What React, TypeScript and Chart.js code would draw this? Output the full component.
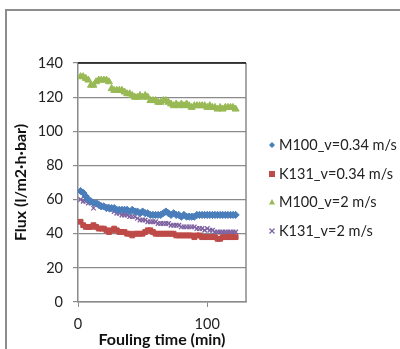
import React, { useEffect, useRef } from "react";
import { Chart, registerables } from "chart.js";

Chart.register(...registerables);

const times = [2, 4, 6, 8, 10, 12, 14, 16, 18, 20, 22, 24, 26, 28, 30, 32, 34, 36, 38, 40, 42, 44, 46, 48, 50, 52, 54, 56, 58, 60, 62, 64, 66, 68, 70, 72, 74, 76, 78, 80, 82, 84, 86, 88, 90, 92, 94, 96, 98, 100, 102, 104, 106, 108, 110, 112, 114, 116, 118, 120, 122];

const m100Slow = [65, 64, 62, 60, 59, 58, 58, 57, 56, 56, 55, 55, 55, 55, 54, 54, 54, 54, 54, 53, 54, 53, 53, 52, 53, 52, 52, 51, 51, 51, 51, 51, 52, 53, 52, 51, 52, 51, 51, 50, 51, 50, 50, 50, 50, 51, 51, 51, 51, 51, 51, 51, 51, 51, 51, 51, 51, 51, 51, 51, 51];

const k131Slow = [47, 45, 44, 44, 44, 45, 44, 43, 43, 43, 42, 41, 42, 43, 42, 41, 41, 41, 40, 40, 39, 40, 40, 40, 40, 41, 42, 42, 41, 40, 40, 40, 40, 40, 40, 40, 40, 39, 39, 39, 39, 39, 39, 39, 38, 39, 39, 38, 38, 38, 38, 38, 38, 37, 37, 38, 38, 38, 38, 38, 38];

const m100Fast = [132, 132, 131, 130, 127, 127, 129, 130, 130, 130, 130, 129, 125, 124, 124, 124, 124, 123, 122, 122, 121, 120, 120, 121, 120, 121, 120, 118, 118, 118, 117, 117, 118, 118, 117, 116, 115, 116, 115, 116, 115, 116, 115, 114, 115, 115, 115, 115, 115, 114, 115, 114, 114, 113, 114, 113, 114, 114, 114, 114, 113];

const k131Fast = [60, 59, 59, 58, 58, 55, 58, 57, 56, 56, 56, 55, 54, 53, 52, 52, 51, 51, 51, 50, 50, 50, 49, 48, 48, 48, 47, 47, 47, 47, 46, 46, 46, 46, 46, 45, 45, 45, 45, 44, 44, 44, 44, 44, 44, 43, 43, 43, 42, 43, 42, 42, 41, 41, 41, 41, 41, 41, 41, 41, 41];

const seriesLabels = ["M100_v=0.34 m/s", "K131_v=0.34 m/s", "M100_v=2 m/s", "K131_v=2 m/s"];
const yTicks = [0, 20, 40, 60, 80, 100, 120, 140];
const xTicks = [0, 100];

const FONT = "Lato, 'Open Sans', sans-serif";

export default function App() {
  const ref = useRef<HTMLCanvasElement | null>(null);

  useEffect(() => {
    if (!ref.current) return;
    const mk = (vals: number[]) => times.map((t, i) => ({ x: t, y: vals[i] }));
    const styles = [
      { color: "#4A7EBB", style: "rectRot", r: 3.6 },
      { color: "#BE4B48", style: "rect", r: 3.4 },
      { color: "#98B954", style: "triangle", r: 4 },
      { color: "#7D60A0", style: "crossRot", r: 3.2 },
    ];
    const series = [m100Slow, k131Slow, m100Fast, k131Fast];

    function drawMarker(ctx: CanvasRenderingContext2D, style: string, x: number, y: number, r: number) {
      ctx.beginPath();
      if (style === "rectRot") {
        ctx.moveTo(x, y - r);
        ctx.lineTo(x + r, y);
        ctx.lineTo(x, y + r);
        ctx.lineTo(x - r, y);
        ctx.closePath();
        ctx.fill();
      } else if (style === "rect") {
        ctx.rect(x - r, y - r, 2 * r, 2 * r);
        ctx.fill();
      } else if (style === "triangle") {
        ctx.moveTo(x, y - r);
        ctx.lineTo(x + r, y + r * 0.8);
        ctx.lineTo(x - r, y + r * 0.8);
        ctx.closePath();
        ctx.fill();
      } else {
        ctx.moveTo(x - r, y - r);
        ctx.lineTo(x + r, y + r);
        ctx.moveTo(x + r, y - r);
        ctx.lineTo(x - r, y + r);
        ctx.stroke();
      }
    }

    const frame = {
      id: "frame",
      afterDraw(chart: any) {
        const { ctx, chartArea: a } = chart;
        ctx.save();
        ctx.lineWidth = 1.5;
        ctx.strokeStyle = "#8a8a8a";
        ctx.beginPath();
        ctx.moveTo(a.right, a.top);
        ctx.lineTo(a.right, a.bottom);
        ctx.stroke();
        ctx.strokeStyle = "#111";
        ctx.beginPath();
        ctx.moveTo(a.left, a.top);
        ctx.lineTo(a.right, a.top);
        ctx.stroke();
        ctx.restore();
      },
    };

    const legend = {
      id: "customLegend",
      afterDraw(chart: any) {
        const { ctx } = chart;
        ctx.save();
        const ys = [145, 174, 202, 231];
        chart.data.datasets.forEach((ds: any, i: number) => {
          const s = styles[i];
          ctx.fillStyle = s.color;
          ctx.strokeStyle = s.color;
          ctx.lineWidth = 1.2;
          drawMarker(ctx, s.style, 272, ys[i], i === 3 ? 2.5 : 3);
          ctx.fillStyle = "#222";
          ctx.font = `14.5px ${FONT}`;
          ctx.textBaseline = "middle";
          ctx.textAlign = "left";
          ctx.fillText(ds.label, 279, ys[i]);
        });
        ctx.restore();
      },
    };

    const chart = new Chart(ref.current, {
      type: "scatter",
      data: {
        datasets: series.map((vals, i) => ({
          label: seriesLabels[i],
          data: mk(vals),
          pointStyle: styles[i].style as any,
          pointRadius: styles[i].r,
          pointBackgroundColor: styles[i].color,
          pointBorderColor: styles[i].color,
          pointBorderWidth: i === 3 ? 1.3 : 1,
          showLine: false,
        })),
      },
      options: {
        animation: false,
        responsive: false,
        maintainAspectRatio: false,
        layout: { padding: { left: 0, top: 63, right: 154, bottom: 0 } },
        plugins: { legend: { display: false }, tooltip: { enabled: false } },
        scales: {
          x: {
            type: "linear",
            min: 0,
            max: 130,
            afterBuildTicks: (s: any) => {
              s.ticks = xTicks.map((v) => ({ value: v }));
            },
            afterFit: (s: any) => {
              s.height = 47;
            },
            ticks: {
              font: { family: FONT, size: 14.5 },
              color: "#222",
              padding: 9,
              maxRotation: 0,
            },
            grid: { drawOnChartArea: false, drawTicks: true, tickLength: 5, color: "#8a8a8a" },
            border: { color: "#8a8a8a", width: 1.5 },
            title: {
              display: true,
              text: "Fouling time (min)",
              font: { family: FONT, size: 16, weight: "bold" },
              color: "#111",
              padding: { top: 0, bottom: 0 },
            },
          },
          y: {
            type: "linear",
            min: 0,
            max: 140,
            afterBuildTicks: (s: any) => {
              s.ticks = yTicks.map((v) => ({ value: v }));
            },
            afterFit: (s: any) => {
              s.width = 78;
            },
            ticks: {
              font: { family: FONT, size: 14.5 },
              color: "#222",
              padding: 10,
            },
            grid: {
              drawTicks: true,
              tickLength: 5,
              color: "#8a8a8a",
              lineWidth: 1.2,
            },
            border: { color: "#8a8a8a", width: 1.5 },
            title: {
              display: true,
              text: "Flux (l/m2·h·bar)",
              font: { family: FONT, size: 16, weight: "bold" },
              color: "#111",
              padding: { top: 11, bottom: 0 },
            },
          },
        },
      },
      plugins: [frame, legend],
    });
    return () => chart.destroy();
  }, []);

  return (
    <div style={{ position: "absolute", left: 0, top: 0, width: 400, height: 349, overflow: "hidden", background: "#fff" }}>
      <div style={{ position: "absolute", left: 5, top: 9, width: 420, height: 420, border: "2px solid #8c8c8c", boxSizing: "border-box" }} />
      <canvas ref={ref} width={400} height={349} style={{ position: "absolute", left: 0, top: 0, width: 400, height: 349 }} />
    </div>
  );
}
